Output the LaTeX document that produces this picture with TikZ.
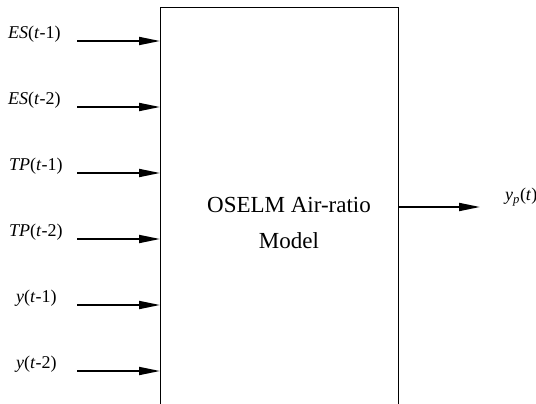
\documentclass[tikz,border=0pt]{standalone}
\usepackage{fontspec}
\setmainfont{Liberation Serif}
\usetikzlibrary{positioning, arrows.meta, calc}

\begin{document}
\begin{tikzpicture}[
    x=1pt, y=-1pt,
    arrow/.style={
        -{Triangle[length=21pt, width=8pt]},
        line width=1.8pt
    },
    model/.style={
        rectangle,
        draw,
        line width=0.9pt,
        minimum width=238pt,
        minimum height=430pt,
        anchor=north west,
        inner sep=0pt
    },
    signal/.style={
        anchor=west,
        inner sep=0pt,
        font=\fontsize{18}{21}\selectfont
    },
    caption/.style={
        align=center,
        font=\fontsize{23}{36}\selectfont
    }
]
    \useasboundingbox (0,0) rectangle (536,404);

    % Model block
    \node[model] (model) at (160,7) {};
    \node[caption] (name) at (289,223) {OSELM Air-ratio\\Model};

    % Inputs
    \coordinate (in1) at (77,41);
    \coordinate (in2) at (77,107);
    \coordinate (in3) at (77,173);
    \coordinate (in4) at (77,239);
    \coordinate (in5) at (77,305);
    \coordinate (in6) at (77,371);

    \node[signal] (l1) at (8,34) {\textit{ES}(\textit{t}-1)};
    \node[signal] (l2) at (8,100) {\textit{ES}(\textit{t}-2)};
    \node[signal] (l3) at (9,166) {\textit{TP}(\textit{t}-1)};
    \node[signal] (l4) at (9,232) {\textit{TP}(\textit{t}-2)};
    \node[signal] (l5) at (16,298) {\textit{y}(\textit{t}-1)};
    \node[signal] (l6) at (16,364) {\textit{y}(\textit{t}-2)};

    \foreach \i in {1,...,6}
        \draw[arrow] (in\i) -- (in\i -| model.west);

    % Output
    \coordinate (out) at (480,207);
    \draw[arrow] (out -| model.east) -- (out);
    \node[signal] (lout) at (505,197) {\textit{y}\textsubscript{\textit{p}}(\textit{t})};

\end{tikzpicture}
\end{document}
